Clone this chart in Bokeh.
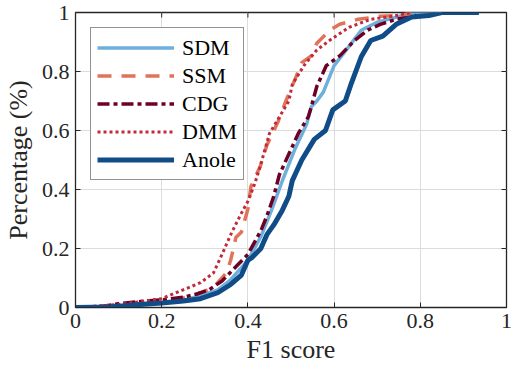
import math
from bokeh.plotting import figure
from bokeh.models import Range1d, Legend, LegendItem, FixedTicker
from bokeh.embed import file_html
from bokeh.resources import INLINE

# ---- data ----
series_names = ["SDM", "SSM", "CDG", "DMM", "Anole"]

sdm_x = [0, 0.1, 0.2, 0.25, 0.29, 0.33, 0.36, 0.40, 0.43, 0.444, 0.46, 0.48, 0.51, 0.536, 0.547, 0.56, 0.575, 0.60, 0.635, 0.663, 0.70, 0.735, 0.78, 0.85]
sdm_y = [0, 0.005, 0.015, 0.025, 0.04, 0.06, 0.094, 0.16, 0.24, 0.29, 0.35, 0.43, 0.54, 0.62, 0.68, 0.70, 0.73, 0.82, 0.886, 0.94, 0.967, 0.98, 1.0, 1.0]

ssm_x = [0, 0.1, 0.2, 0.25, 0.29, 0.32, 0.35, 0.36, 0.372, 0.385, 0.40, 0.407, 0.429, 0.444, 0.47, 0.488, 0.51, 0.525, 0.547, 0.56, 0.59, 0.613, 0.656, 0.707, 0.757, 0.78]
ssm_y = [0, 0.008, 0.022, 0.032, 0.05, 0.068, 0.117, 0.16, 0.237, 0.256, 0.334, 0.41, 0.48, 0.55, 0.63, 0.70, 0.776, 0.83, 0.853, 0.896, 0.94, 0.96, 0.977, 0.987, 0.99, 1.0]

cdg_x = [0, 0.05, 0.1, 0.15, 0.2, 0.25, 0.28, 0.31, 0.34, 0.36, 0.38, 0.40, 0.43, 0.444, 0.46, 0.473, 0.495, 0.517, 0.54, 0.547, 0.56, 0.582, 0.613, 0.648, 0.678, 0.707, 0.744, 0.788, 0.80]
cdg_y = [0, 0.0, 0.013, 0.02, 0.026, 0.035, 0.045, 0.06, 0.09, 0.12, 0.15, 0.18, 0.26, 0.31, 0.377, 0.45, 0.52, 0.59, 0.646, 0.68, 0.75, 0.82, 0.853, 0.906, 0.94, 0.96, 0.977, 0.987, 1.0]

dmm_x = [0, 0.1, 0.2, 0.29, 0.32, 0.34, 0.363, 0.385, 0.40, 0.416, 0.429, 0.45, 0.473, 0.495, 0.503, 0.53, 0.56, 0.59, 0.635, 0.685, 0.735, 0.78]
dmm_y = [0, 0.01, 0.03, 0.084, 0.117, 0.18, 0.256, 0.32, 0.36, 0.42, 0.48, 0.59, 0.646, 0.70, 0.756, 0.82, 0.873, 0.906, 0.95, 0.977, 0.987, 1.0]

anole_x = [0, 0.08, 0.15, 0.2, 0.25, 0.29, 0.33, 0.36, 0.385, 0.40, 0.41, 0.43, 0.444, 0.46, 0.48, 0.495, 0.503, 0.525, 0.554, 0.58, 0.597, 0.626, 0.64, 0.663, 0.685, 0.713, 0.744, 0.78, 0.82, 0.85, 0.936]
anole_y = [0, 0.002, 0.01, 0.015, 0.022, 0.03, 0.05, 0.078, 0.11, 0.16, 0.17, 0.2, 0.247, 0.28, 0.33, 0.377, 0.43, 0.50, 0.57, 0.60, 0.67, 0.70, 0.76, 0.85, 0.905, 0.92, 0.96, 0.985, 0.99, 1.0, 1.0]

x_ticks = [0, 0.2, 0.4, 0.6, 0.8, 1]
y_ticks = [0, 0.2, 0.4, 0.6, 0.8, 1]
tick_labels = {0: "0", 0.2: "0.2", 0.4: "0.4", 0.6: "0.6", 0.8: "0.8", 1: "1"}

FONT = "Liberation Serif"
DARK = "#262626"

p = figure(width=516, height=366, output_backend="svg", toolbar_location=None,
           x_range=Range1d(0, 1), y_range=Range1d(0, 1),
           min_border_left=10, min_border_right=10, min_border_top=12, min_border_bottom=4)

p.background_fill_color = "white"
p.border_fill_color = "white"
p.outline_line_color = DARK
p.outline_line_width = 1.3
p.outline_line_alpha = 1.0

for ax, ticks in ((p.xaxis[0], x_ticks), (p.yaxis[0], y_ticks)):
    ax.ticker = FixedTicker(ticks=ticks)
    ax.major_label_overrides = tick_labels
    ax.major_label_text_font = FONT
    ax.major_label_text_font_size = "22px"
    ax.major_label_text_color = DARK
    ax.axis_label_text_font = FONT
    ax.axis_label_text_font_size = "26px"
    ax.axis_label_text_font_style = "normal"
    ax.axis_label_text_color = DARK
    ax.axis_line_color = DARK
    ax.major_tick_line_color = DARK
    ax.major_tick_in = 5
    ax.major_tick_out = 0
    ax.minor_tick_line_color = None

p.xaxis[0].axis_label = "F1 score"
p.yaxis[0].axis_label = "Percentage (%)"
p.xaxis[0].major_label_standoff = 6
p.yaxis[0].major_label_standoff = 6
p.xaxis[0].axis_label_standoff = 4
p.yaxis[0].axis_label_standoff = 6

p.xgrid.ticker = FixedTicker(ticks=x_ticks)
p.ygrid.ticker = FixedTicker(ticks=y_ticks)
p.grid.grid_line_color = "#dcdcdc"
p.grid.grid_line_width = 1

# mirrored inward ticks on the top and right edges (box on)
p.ray(x=x_ticks, y=[1] * len(x_ticks), length=5, length_units="screen",
      angle=-math.pi / 2, line_color=DARK, line_width=1)
p.ray(x=[1] * len(y_ticks), y=y_ticks, length=5, length_units="screen",
      angle=math.pi, line_color=DARK, line_width=1)

r_sdm = p.line(sdm_x, sdm_y, line_color="#6fb0da", line_width=3.5)
r_ssm = p.line(ssm_x, ssm_y, line_color="#e0735a", line_width=3.5, line_dash="14 10")
r_cdg = p.line(cdg_x, cdg_y, line_color="#6d0024", line_width=3.5, line_dash="12 4 4 4")
r_dmm = p.line(dmm_x, dmm_y, line_color="#c02a3a", line_width=3, line_dash="3 3")
r_anole = p.line(anole_x, anole_y, line_color="#0f4c88", line_width=5)

renderers = [r_sdm, r_ssm, r_cdg, r_dmm, r_anole]
legend = Legend(items=[LegendItem(label=n, renderers=[r]) for n, r in zip(series_names, renderers)],
                location="top_left")
legend.label_text_font = FONT
legend.label_text_font_size = "22px"
legend.label_text_color = "black"
legend.glyph_width = 77
legend.glyph_height = 27
legend.label_height = 27
legend.label_standoff = 8
legend.spacing = 1
legend.padding = 6
legend.margin = 15
legend.border_line_color = DARK
legend.border_line_width = 1.3
legend.background_fill_color = "white"
legend.background_fill_alpha = 1.0
p.add_layout(legend, "center")

open("out.html", "w").write(file_html(p, INLINE))
